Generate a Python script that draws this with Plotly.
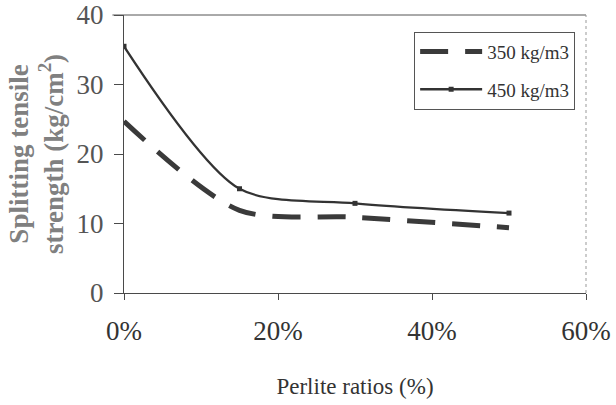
import plotly.graph_objects as go

# Perlite replacement ratio (%) and splitting tensile strength (kg/cm2)
perlite = [0, 15, 30, 50]
strength_350 = [24.7, 11.9, 10.9, 9.4]
strength_450 = [35.5, 15.0, 12.9, 11.5]

x_ticks = [0, 20, 40, 60]
x_tick_labels = ["0%", "20%", "40%", "60%"]
y_ticks = [0, 10, 20, 30, 40]

serif = "Liberation Serif"
axis_color = "#4a4a4a"

fig = go.Figure()
fig.add_trace(go.Scatter(
    x=perlite, y=strength_350, name="350 kg/m3", mode="lines", legendgroup="a",
    line=dict(color="#3a3a3a", width=5, dash="28px,17px", shape="spline", smoothing=0.8),
))
fig.add_trace(go.Scatter(
    x=perlite, y=strength_450, name="450 kg/m3", mode="lines+markers", legendgroup="b",
    line=dict(color="#333333", width=2.3, shape="spline", smoothing=0.8),
    marker=dict(symbol="square", size=5, color="#333333"),
))

# top frame line and light dotted right edge of the plot area
fig.add_shape(type="line", xref="paper", yref="paper", x0=-0.025, x1=1, y0=1, y1=1,
              line=dict(color="#555555", width=1))
fig.add_shape(type="line", xref="paper", yref="paper", x0=1, x1=1, y0=0, y1=1,
              line=dict(color="#999999", width=1, dash="dot"))

fig.update_layout(
    width=616, height=405,
    margin=dict(l=124, r=30, t=15, b=112),
    paper_bgcolor="white", plot_bgcolor="white",
    font=dict(family=serif, color="#333333"),
    showlegend=True,
    legend=dict(
        x=0.628, y=0.94, xanchor="left", yanchor="top",
        bgcolor="white", bordercolor="#555555", borderwidth=1,
        font=dict(family=serif, size=19, color="#333333"),
        traceorder="grouped", tracegroupgap=10, itemwidth=62,
    ),
    xaxis=dict(
        range=[0, 60], tickvals=x_ticks, ticktext=x_tick_labels,
        showgrid=False, zeroline=False, automargin=False,
        showline=True, linecolor=axis_color, linewidth=1,
        ticks="outside", ticklen=6, tickcolor=axis_color,
        tickfont=dict(family=serif, size=27, color="#333333"),
        ticklabelstandoff=8,
        title=dict(text="Perlite ratios (%)", standoff=32,
                   font=dict(family=serif, size=23, color="#333333")),
    ),
    yaxis=dict(
        range=[0, 40], tickvals=y_ticks,
        showgrid=False, zeroline=False, automargin=False,
        showline=True, linecolor=axis_color, linewidth=1,
        ticks="outside", ticklen=9, tickcolor=axis_color,
        tickfont=dict(family=serif, size=27, color="#555555"),
        ticklabelstandoff=5,
        title=dict(text="<b>Splitting tensile<br>strength (kg/cm<sup>2</sup>)</b>", standoff=5,
                   font=dict(family=serif, size=27, color="#808080")),
    ),
)

fig.write_html("out.html")
